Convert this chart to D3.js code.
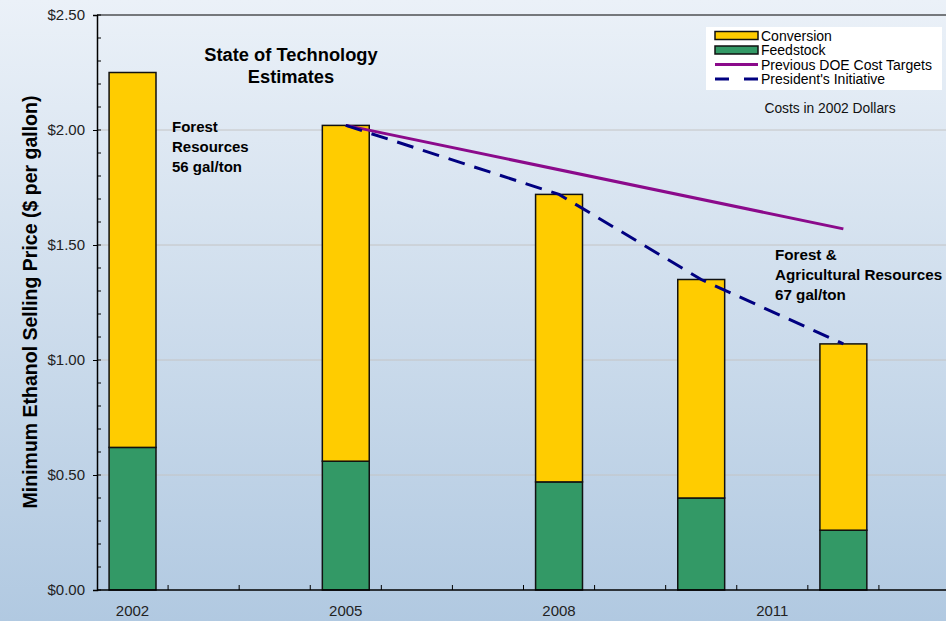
<!DOCTYPE html>
<html>
<head>
<meta charset="utf-8">
<script src="https://cdn.jsdelivr.net/npm/d3@7"></script>
<style>
  body { margin: 0; padding: 0; overflow: hidden; }
  svg { display: block; font-family: Arial, "Liberation Sans", sans-serif; }
</style>
</head>
<body>
<div id="chart"></div>
<script>
// categories and values
var years = [2002, 2003, 2004, 2005, 2006, 2007, 2008, 2009, 2010, 2011, 2012, 2013];
var yearLabels = [2002, 2005, 2008, 2011];
var barYears = [2002, 2005, 2008, 2010, 2012];
var feedstock = [0.62, 0.56, 0.47, 0.40, 0.26];
var conversion = [1.63, 1.46, 1.25, 0.95, 0.81];
var doeYears = [2005, 2012];
var doeTargets = [2.02, 1.57];
var presYears = [2005, 2008, 2010, 2012];
var presValues = [2.02, 1.72, 1.35, 1.07];
var yTicks = [0, 0.5, 1, 1.5, 2, 2.5];
var yMinor = d3.range(0, 2.51, 0.1);

var width = 946, height = 621;
var plotLeft = 97, plotTop = 15, plotBottom = 590, plotRight = 950;

var svg = d3.select("#chart").append("svg")
    .attr("width", width)
    .attr("height", height);

var defs = svg.append("defs");
var grad = defs.append("linearGradient")
    .attr("id", "bg")
    .attr("x1", 0).attr("y1", 0).attr("x2", 0).attr("y2", 1);
grad.append("stop").attr("offset", "0%").attr("stop-color", "#ebf1f8");
grad.append("stop").attr("offset", "100%").attr("stop-color", "#b1c9e1");

svg.append("rect")
    .attr("width", width).attr("height", height)
    .attr("fill", "url(#bg)");

var x = d3.scaleBand().domain(years).range([plotLeft, plotRight]).paddingInner(0).paddingOuter(0);
var y = d3.scaleLinear().domain([0, 2.5]).range([plotBottom, plotTop]);
var barW = x.bandwidth() * 0.66;

// grid
svg.append("g").selectAll("line")
    .data(yTicks.filter(function(d) { return d > 0 && d < 2.5; }))
    .enter().append("line")
    .attr("x1", plotLeft).attr("x2", width)
    .attr("y1", function(d) { return y(d); })
    .attr("y2", function(d) { return y(d); })
    .attr("stroke", "#c4c4c4")
    .attr("stroke-width", 1);

// top border
svg.append("line")
    .attr("x1", plotLeft).attr("x2", width)
    .attr("y1", y(2.5)).attr("y2", y(2.5))
    .attr("stroke", "#000").attr("stroke-width", 1);

// stacked bars
var bars = svg.append("g");
barYears.forEach(function(yr, i) {
    var bx = x(yr) + (x.bandwidth() - barW) / 2;
    bars.append("rect")
        .attr("x", bx)
        .attr("y", y(feedstock[i]))
        .attr("width", barW)
        .attr("height", y(0) - y(feedstock[i]))
        .attr("fill", "#339966")
        .attr("stroke", "#111")
        .attr("stroke-width", 1.5);
    bars.append("rect")
        .attr("x", bx)
        .attr("y", y(feedstock[i] + conversion[i]))
        .attr("width", barW)
        .attr("height", y(feedstock[i]) - y(feedstock[i] + conversion[i]))
        .attr("fill", "#ffcc00")
        .attr("stroke", "#111")
        .attr("stroke-width", 1.5);
});

var line = d3.line()
    .x(function(d) { return x(d[0]) + x.bandwidth() / 2; })
    .y(function(d) { return y(d[1]); });

svg.append("path")
    .datum(doeYears.map(function(d, i) { return [d, doeTargets[i]]; }))
    .attr("d", line)
    .attr("fill", "none")
    .attr("stroke", "#8b0a8b")
    .attr("stroke-width", 3);

svg.append("path")
    .datum(presYears.map(function(d, i) { return [d, presValues[i]]; }))
    .attr("d", line)
    .attr("fill", "none")
    .attr("stroke", "#000080")
    .attr("stroke-width", 3)
    .attr("stroke-dasharray", "17,10");

// y axis
var yAxis = svg.append("g")
    .attr("transform", "translate(" + plotLeft + ",0)")
    .call(d3.axisLeft(y).tickValues(yTicks).tickFormat(d3.format("$.2f")).tickSize(4).tickPadding(8));
yAxis.select(".domain").attr("stroke", "#000").attr("stroke-width", 1.5);
yAxis.selectAll("text").attr("font-size", "15px").attr("fill", "#222")
    .attr("font-family", "Arial, 'Liberation Sans', sans-serif");

svg.append("g").selectAll("line")
    .data(yMinor)
    .enter().append("line")
    .attr("x1", plotLeft).attr("x2", plotLeft + 4)
    .attr("y1", function(d) { return y(d); })
    .attr("y2", function(d) { return y(d); })
    .attr("stroke", "#000");

// x axis
svg.append("line")
    .attr("x1", plotLeft).attr("x2", width)
    .attr("y1", plotBottom).attr("y2", plotBottom)
    .attr("stroke", "#000").attr("stroke-width", 1.5);

svg.append("g").selectAll("line")
    .data(years.slice(1))
    .enter().append("line")
    .attr("x1", function(d) { return x(d); })
    .attr("x2", function(d) { return x(d); })
    .attr("y1", plotBottom).attr("y2", plotBottom - 5)
    .attr("stroke", "#000");

svg.append("g").selectAll("text")
    .data(yearLabels)
    .enter().append("text")
    .attr("x", function(d) { return x(d) + x.bandwidth() / 2; })
    .attr("y", 616)
    .attr("text-anchor", "middle")
    .attr("font-size", "15px")
    .attr("fill", "#222")
    .text(function(d) { return d; });

// y title
svg.append("text")
    .attr("transform", "translate(37,302) rotate(-90)")
    .attr("text-anchor", "middle")
    .attr("font-size", "19.5px")
    .attr("font-weight", "bold")
    .attr("fill", "#000")
    .text("Minimum Ethanol Selling Price ($ per gallon)");

// annotations
function block(lines, tx, ty, size, anchor, step) {
    var t = svg.append("text")
        .attr("font-size", size)
        .attr("font-weight", "bold")
        .attr("text-anchor", anchor)
        .attr("fill", "#000");
    lines.forEach(function(s, i) {
        t.append("tspan").attr("x", tx).attr("y", ty + i * step).text(s);
    });
}
block(["State of Technology", "Estimates"], 291, 61, "18.3px", "middle", 22);
block(["Forest", "Resources", "56 gal/ton"], 172, 132, "15px", "start", 20);
block(["Forest &", "Agricultural Resources", "67 gal/ton"], 775, 260, "15.2px", "start", 20);

svg.append("text")
    .attr("x", 830).attr("y", 113)
    .attr("text-anchor", "middle")
    .attr("font-size", "13.8px")
    .attr("fill", "#111")
    .text("Costs in 2002 Dollars");

// legend
var legend = svg.append("g");
legend.append("rect")
    .attr("x", 706).attr("y", 27)
    .attr("width", 236).attr("height", 63)
    .attr("fill", "#fff");
var legendItems = ["Conversion", "Feedstock", "Previous DOE Cost Targets", "President's Initiative"];
legendItems.forEach(function(name, i) {
    var cy = 35.5 + i * 14.5;
    if (i < 2) {
        legend.append("rect")
            .attr("x", 715).attr("y", cy - 4)
            .attr("width", 43).attr("height", 8)
            .attr("fill", i == 0 ? "#ffcc00" : "#339966")
            .attr("stroke", "#111").attr("stroke-width", 1.5);
    } else {
        legend.append("line")
            .attr("x1", 715).attr("x2", 758)
            .attr("y1", cy).attr("y2", cy)
            .attr("stroke", i == 2 ? "#8b0a8b" : "#000080")
            .attr("stroke-width", 3)
            .attr("stroke-dasharray", i == 2 ? null : "14,15");
    }
    legend.append("text")
        .attr("x", 761).attr("y", cy + 5)
        .attr("font-size", "14px")
        .attr("fill", "#000")
        .text(name);
});
</script>
</body>
</html>
